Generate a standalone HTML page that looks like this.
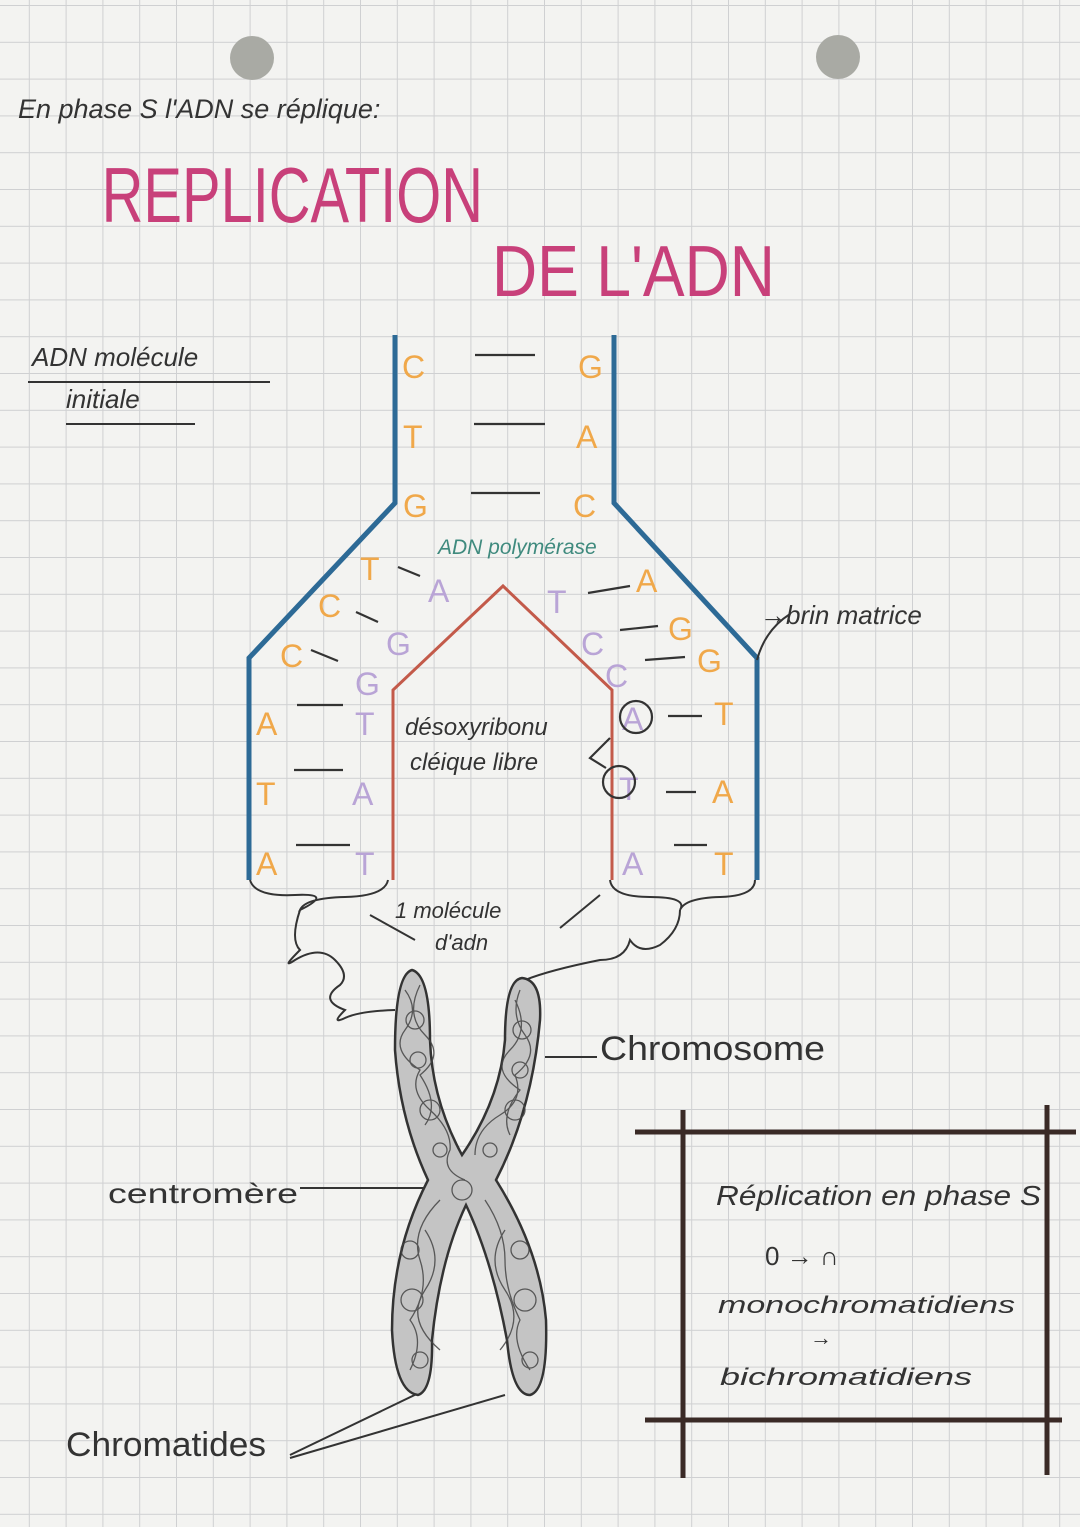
<!DOCTYPE html>
<html><head><meta charset="utf-8"><style>
html,body{margin:0;padding:0;background:#f4f4f2}
svg{display:block}
.hw{font-family:"Liberation Sans",sans-serif}
</style></head><body>
<svg width="1080" height="1527" viewBox="0 0 1080 1527" xmlns="http://www.w3.org/2000/svg">
<defs>
<pattern id="g" width="36.8" height="36.8" patternUnits="userSpaceOnUse" x="-7" y="6">
<path d="M36.8 0V36.8M0 36.8H36.8" stroke="#cfd0d2" stroke-width="2" fill="none"/>
</pattern>
</defs>
<rect width="1080" height="1527" fill="#f3f3f1"/>
<rect width="1080" height="1527" fill="url(#g)"/>
<circle cx="252" cy="58" r="22" fill="#a9aaa4"/>
<circle cx="838" cy="57" r="22" fill="#a9aaa4"/>

<g class="hw" fill="#333">
<text x="18" y="118" font-size="27" font-style="italic">En phase S l'ADN se réplique:</text>
</g>
<text x="124" y="222" font-family="Liberation Sans,sans-serif" font-size="78" fill="#c8407a" transform="scale(0.82,1)" textLength="465" lengthAdjust="spacingAndGlyphs">REPLICATION</text>
<text x="600" y="296" font-family="Liberation Sans,sans-serif" font-size="72" fill="#c8407a" transform="scale(0.82,1)" textLength="345" lengthAdjust="spacingAndGlyphs">DE L'ADN</text>

<text x="32" y="366" font-family="Liberation Sans,sans-serif" font-size="26" font-style="italic" fill="#333">ADN molécule</text>
<text x="66" y="408" font-family="Liberation Sans,sans-serif" font-size="26" font-style="italic" fill="#333">initiale</text>
<path d="M28 382H270M66 424H195" stroke="#333" stroke-width="2"/>

<path d="M395 335V503L249 658V880" stroke="#2d6a96" stroke-width="5" fill="none"/>
<path d="M614 335V503L757 658V880" stroke="#2d6a96" stroke-width="5" fill="none"/>
<path d="M393 880V690L503 586L612 690V880" stroke="#c35a4a" stroke-width="3" fill="none"/>

<g font-family="Liberation Sans,sans-serif" font-size="32" fill="#f0a84a">
<text x="402" y="378">C</text><text x="403" y="448">T</text><text x="403" y="517">G</text>
<text x="578" y="378">G</text><text x="576" y="448">A</text><text x="573" y="517">C</text>
<text x="360" y="580">T</text><text x="318" y="617">C</text><text x="280" y="667">C</text>
<text x="256" y="735">A</text><text x="256" y="805">T</text><text x="256" y="875">A</text>
<text x="636" y="592">A</text><text x="668" y="640">G</text><text x="697" y="672">G</text>
<text x="714" y="725">T</text><text x="712" y="803">A</text><text x="714" y="875">T</text>
</g>
<g font-family="Liberation Sans,sans-serif" font-size="32" fill="#b9a4d6">
<text x="428" y="602">A</text><text x="386" y="655">G</text><text x="355" y="695">G</text>
<text x="355" y="735">T</text><text x="352" y="805">A</text><text x="355" y="875">T</text>
<text x="547" y="613">T</text><text x="581" y="655">C</text><text x="605" y="687">C</text>
<text x="622" y="730">A</text><text x="619" y="800">T</text><text x="622" y="875">A</text>
</g>
<g stroke="#333" stroke-width="2.2" fill="none">
<path d="M475 355H535M474 424H545M471 493H540"/>
<path d="M398 567L420 576M356 612L378 622M311 650L338 661M297 705H343M294 770H343M296 845H350"/>
<path d="M588 593L630 586M620 630L658 626M645 660L685 657M668 716H702M666 792H696M674 845H707"/>
<circle cx="636" cy="717" r="16"/><circle cx="619" cy="782" r="16"/>
<path d="M610 738L590 758L606 768"/>
</g>
<text x="438" y="554" font-family="Liberation Sans,sans-serif" font-size="21" font-style="italic" fill="#3f8a7e">ADN polymérase</text>
<text x="405" y="735" font-family="Liberation Sans,sans-serif" font-size="24" font-style="italic" fill="#333">désoxyribonu</text>
<text x="410" y="770" font-family="Liberation Sans,sans-serif" font-size="24" font-style="italic" fill="#333">cléique libre</text>
<text x="760" y="624" font-family="Liberation Sans,sans-serif" font-size="26" font-style="italic" fill="#333">→brin matrice</text>
<path d="M757 660Q765 630 790 614" stroke="#333" stroke-width="2" fill="none"/>

<g stroke="#333" stroke-width="2" fill="none">
<path d="M250 880Q255 897 295 895T300 910Q305 898 345 897T388 880"/>
<path d="M610 880Q612 897 650 897T680 910Q685 898 720 897T755 880"/>
<path d="M300 910Q290 940 300 950Q280 970 295 960Q320 945 335 960T340 985Q318 1000 345 1010Q330 1025 345 1018T395 1010"/>
<path d="M680 910Q680 930 660 945Q640 955 630 940Q625 960 600 960Q550 970 525 980"/>
<path d="M370 915L415 940M600 895L560 928"/>
<path d="M545 1057H597M300 1188H428M425 1390L290 1455M505 1395L290 1458"/>
</g>
<text x="395" y="918" font-family="Liberation Sans,sans-serif" font-size="22" font-style="italic" fill="#333">1 molécule</text>
<text x="435" y="950" font-family="Liberation Sans,sans-serif" font-size="22" font-style="italic" fill="#333">d'adn</text>
<text x="600" y="1060" font-family="Liberation Sans,sans-serif" font-size="34" fill="#333" textLength="225" lengthAdjust="spacingAndGlyphs">Chromosome</text>
<text x="108" y="1203" font-family="Liberation Sans,sans-serif" font-size="28" fill="#333" textLength="190" lengthAdjust="spacingAndGlyphs">centromère</text>
<text x="66" y="1456" font-family="Liberation Sans,sans-serif" font-size="34" fill="#333" textLength="200" lengthAdjust="spacingAndGlyphs">Chromatides</text>

<path d="M412 970Q395 975 395 1050Q400 1120 428 1180Q392 1250 392 1330Q395 1392 418 1395Q433 1390 432 1340Q440 1260 466 1205Q492 1260 507 1340Q512 1395 530 1395Q548 1390 546 1320Q540 1250 496 1180Q532 1110 540 1020Q542 980 522 978Q505 980 505 1040Q500 1100 462 1155Q432 1100 430 1040Q430 975 412 970Z" fill="#c4c4c4" stroke="#333" stroke-width="2.5"/>
<g stroke="#444" stroke-width="1.3" fill="none" opacity="0.85">
<path d="M405 990q15 20 0 40t15 40q-12 20 10 40t20 40q-10 20 15 30M520 990q-10 25 5 45t-10 40q10 25-15 40t-25 40M440 1200q-30 30-20 60t-10 60q15 20 0 50M485 1200q20 30 20 60t15 60q-10 20 10 50"/>
<path d="M420 985q-15 30 5 50t-5 40q20 30 5 50M515 1000q15 30-5 50t10 40q-20 25-10 45M425 1230q20 30 0 60t15 60M505 1230q-20 30 0 60t-5 60"/>
<circle cx="415" cy="1020" r="9"/><circle cx="522" cy="1030" r="9"/><circle cx="430" cy="1110" r="10"/><circle cx="515" cy="1110" r="10"/><circle cx="412" cy="1300" r="11"/><circle cx="525" cy="1300" r="11"/><circle cx="420" cy="1360" r="8"/><circle cx="530" cy="1360" r="8"/><circle cx="462" cy="1190" r="10"/>
<circle cx="418" cy="1060" r="8"/><circle cx="520" cy="1070" r="8"/><circle cx="410" cy="1250" r="9"/><circle cx="520" cy="1250" r="9"/><circle cx="440" cy="1150" r="7"/><circle cx="490" cy="1150" r="7"/>
</g>

<g stroke="#3a2a26" stroke-width="5" fill="none">
<path d="M635 1132H1076M645 1420H1062M683 1110V1478M1047 1105V1475"/>
</g>
<text x="716" y="1205" font-family="Liberation Sans,sans-serif" font-size="28" font-style="italic" fill="#333" textLength="325" lengthAdjust="spacingAndGlyphs">Réplication en phase S</text>
<text x="765" y="1265" font-family="Liberation Sans,sans-serif" font-size="26" fill="#333">0 → ∩</text>
<text x="718" y="1313" font-family="Liberation Sans,sans-serif" font-size="24" font-style="italic" fill="#333" textLength="297" lengthAdjust="spacingAndGlyphs">monochromatidiens</text>
<text x="810" y="1345" font-family="Liberation Sans,sans-serif" font-size="22" fill="#333">→</text>
<text x="720" y="1385" font-family="Liberation Sans,sans-serif" font-size="24" font-style="italic" fill="#333" textLength="252" lengthAdjust="spacingAndGlyphs">bichromatidiens</text>
</svg>
</body></html>
